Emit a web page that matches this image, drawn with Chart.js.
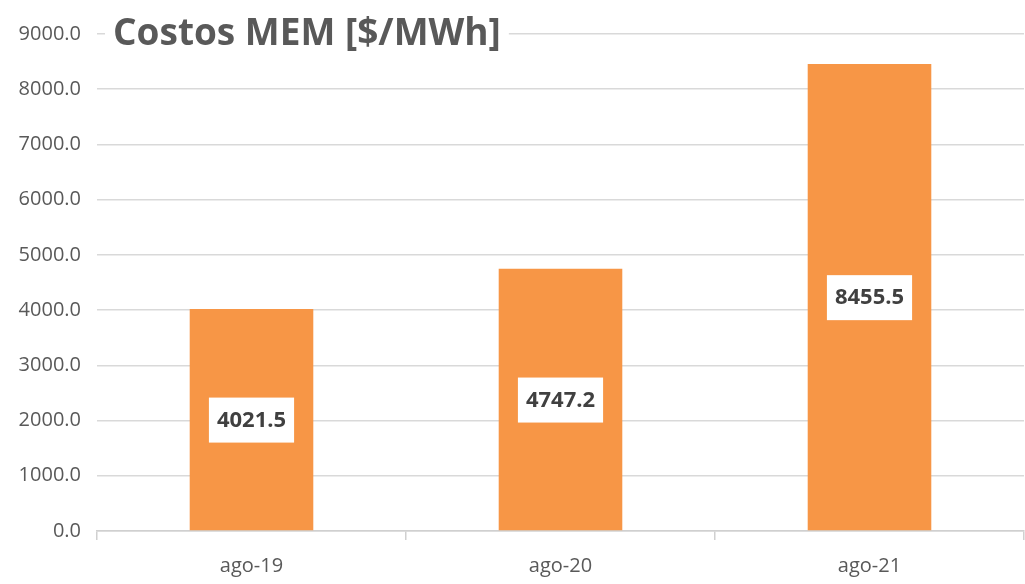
<!DOCTYPE html>
<html>
<head>
<meta charset="utf-8">
<script src="https://cdn.jsdelivr.net/npm/chart.js@4/dist/chart.umd.min.js"></script>
<style>
  html, body { margin: 0; padding: 0; background: #fff; }
  #wrap { width: 1025px; height: 584px; }
</style>
</head>
<body>
<div id="wrap"><canvas id="chart" width="1025" height="584"></canvas></div>
<script>
const categories = ['ago-19', 'ago-20', 'ago-21'];
const costValues = [4021.5, 4747.2, 8455.5];
const chartTitle = 'Costos MEM [$/MWh]';

const textFont = '"Open Sans", "Noto Sans", sans-serif';

// title sits on top of the 9000 gridline with a white backing
const titlePlugin = {
    id: 'overTitle',
    beforeDatasetsDraw(chart) {
        const ctx = chart.ctx;
        ctx.save();
        ctx.font = 'bold 37px ' + textFont;
        const w = ctx.measureText(chartTitle).width;
        const x = 113, y = chart.scales.y.getPixelForValue(9000);
        ctx.fillStyle = '#fff';
        ctx.fillRect(x - 8, y - 26, w + 16, 52);
        ctx.fillStyle = '#595959';
        ctx.textBaseline = 'middle';
        ctx.fillText(chartTitle, x, y);
        ctx.restore();
    }
};

// value boxes in the middle of each bar
const labelPlugin = {
    id: 'valueBoxes',
    afterDatasetsDraw(chart) {
        const ctx = chart.ctx;
        const meta = chart.getDatasetMeta(0);
        ctx.save();
        ctx.font = 'bold 22px ' + textFont;
        ctx.textAlign = 'center';
        ctx.textBaseline = 'middle';
        meta.data.forEach((bar, i) => {
            const txt = costValues[i].toFixed(1);
            const cy = (bar.y + bar.base) / 2;
            const w = ctx.measureText(txt).width + 16;
            ctx.fillStyle = '#fff';
            ctx.fillRect(bar.x - w / 2, cy - 22, w, 45);
            ctx.fillStyle = '#404040';
            ctx.fillText(txt, bar.x, cy + 1);
        });
        ctx.restore();
    }
};

new Chart(document.getElementById('chart'), {
    type: 'bar',
    data: {
        labels: categories,
        datasets: [{
            data: costValues,
            backgroundColor: '#F79646',
            categoryPercentage: 0.4,
            barPercentage: 1.0
        }]
    },
    options: {
        responsive: false,
        animation: false,
        layout: { padding: { top: 34, right: 1, left: 0, bottom: 0 } },
        plugins: {
            legend: { display: false },
            tooltip: { enabled: false }
        },
        scales: {
            x: {
                grid: {
                    offset: true,
                    drawOnChartArea: false,
                    tickLength: 9,
                    color: '#D0D0D0',
                    lineWidth: 1.5
                },
                border: { color: '#D0D0D0', width: 1.5 },
                ticks: {
                    color: '#595959',
                    font: { family: textFont, size: 20 },
                    padding: 14
                },
                afterFit(scale) { scale.height = 53; }
            },
            y: {
                min: 0,
                max: 9000,
                grid: { color: '#D9D9D9', lineWidth: 1.5, drawTicks: false },
                border: { display: false },
                ticks: {
                    stepSize: 1000,
                    color: '#595959',
                    font: { family: textFont, size: 20 },
                    padding: 16,
                    callback: v => v.toFixed(1)
                },
                afterFit(scale) { scale.width = 97; }
            }
        }
    },
    plugins: [titlePlugin, labelPlugin]
});
</script>
</body>
</html>
